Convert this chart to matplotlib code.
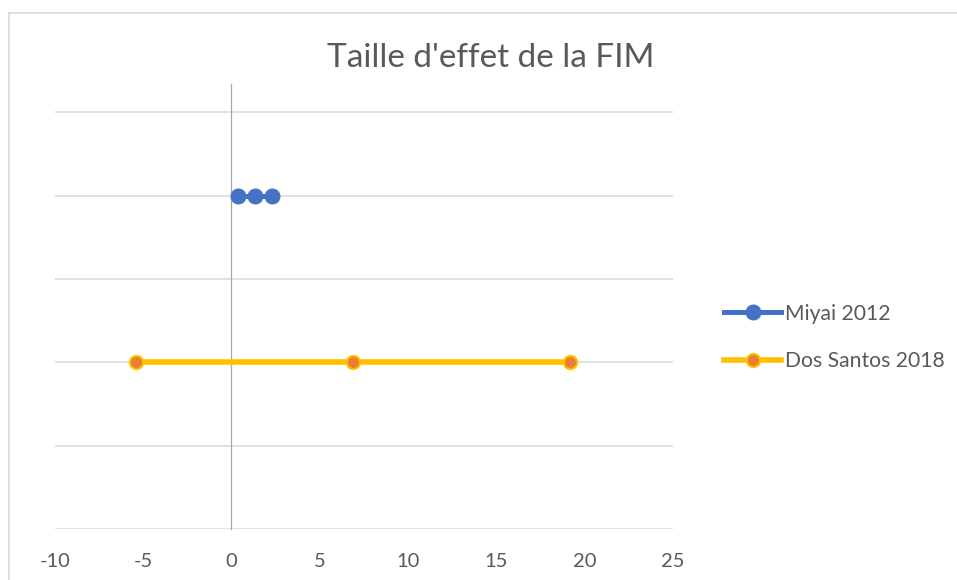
import matplotlib
matplotlib.use("Agg")
import matplotlib.pyplot as plt
from matplotlib.lines import Line2D

plt.rcParams['font.family'] = ['Lato', 'DejaVu Sans']

title = "Taille d'effet de la FIM"
series_names = ["Miyai 2012", "Dos Santos 2018"]
miyai_x = [0.35, 1.33, 2.28]
miyai_y = [4, 4, 4]
dos_x = [-5.4, 6.9, 19.19]
dos_y = [2, 2, 2]
x_ticks = [-10, -5, 0, 5, 10, 15, 20, 25]
y_grid = [0, 1, 2, 3, 4, 5]

fig = plt.figure(figsize=(9.57, 5.8), dpi=100)
W, H = 957, 580
ax = fig.add_axes([55 / W, 1 - 529 / H, (672.7 - 55) / W, (529 - 84) / H])

ax.set_xlim(-10, 25)
ax.set_ylim(0, 5.34)

for yv in y_grid:
    ax.axhline(yv, color='#D9D9D9', lw=1.1, zorder=0)

ax.plot(miyai_x, miyai_y, color='#4472C4', lw=3.6, marker='o', ms=10.5,
        mfc='#4472C4', mec='#4472C4', label=series_names[0], zorder=3)
ax.plot(dos_x, dos_y, color='#FFC000', lw=4.0, marker='o', ms=9.5,
        mfc='#ED7D31', mec='#FFC000', mew=1.5, label=series_names[1], zorder=3)

for s in ['top', 'right', 'bottom']:
    ax.spines[s].set_visible(False)
ax.spines['left'].set_position(('data', 0))
ax.spines['left'].set_color('#A6A6A6')
ax.spines['left'].set_linewidth(0.9)
ax.set_yticks([])
ax.set_xticks(x_ticks)
ax.set_xticklabels([str(v) for v in x_ticks])
ax.tick_params(axis='x', length=0, pad=17, labelsize=14.5, labelcolor='#595959')

fig.text(491 / W, 1 - 58 / H, title, ha='center', va='center',
         fontsize=24, color='#595959')

handles = [
    Line2D([], [], color='#4472C4', lw=3.6, marker='o', ms=10.5,
           mfc='#4472C4', mec='#4472C4'),
    Line2D([], [], color='#FFC000', lw=4.0, marker='o', ms=9.5,
           mfc='#ED7D31', mec='#FFC000', mew=1.5),
]
fig.legend(handles, series_names, loc='center left',
           bbox_to_anchor=(724 / W, 1 - 337.5 / H), frameon=False,
           fontsize=15.2, labelcolor='#595959', handlelength=2.7,
           handletextpad=0.2, labelspacing=1.3, borderpad=0,
           borderaxespad=0)

# chart border
fig.add_artist(Line2D([9 / W, 9 / W], [0, 1 - 13 / H], transform=fig.transFigure,
                      color='#D9D9D9', lw=1.2))
fig.add_artist(Line2D([9 / W, 1], [1 - 13 / H, 1 - 13 / H], transform=fig.transFigure,
                      color='#D9D9D9', lw=1.2))

fig.savefig('out.png', dpi=100)
